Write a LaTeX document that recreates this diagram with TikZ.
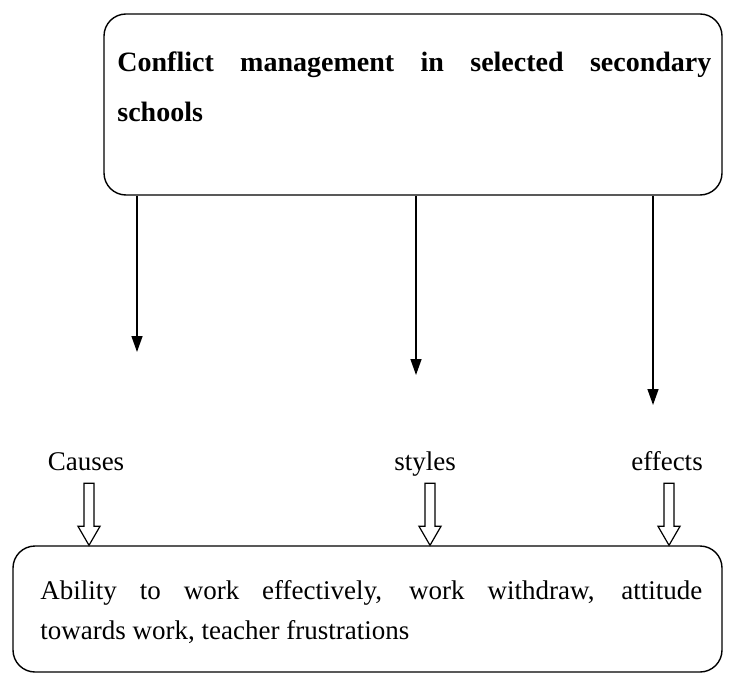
\documentclass[tikz,border=0pt]{standalone}
\usepackage{fontspec}
\setmainfont{Liberation Serif}
\usetikzlibrary{arrows.meta}

\tikzset{
  frame/.style={draw, rounded corners=11pt, line width=0.7pt, inner sep=0pt},
  arr/.style={line width=0.7pt, -{Triangle[length=8pt,width=5.5pt]}},
  hollow/.style={draw, line width=0.6pt, line join=miter},
  topic/.style={anchor=base, inner sep=0pt, font=\fontsize{13.5}{16}\selectfont},
  blurb/.style={anchor=north west, inner sep=0pt, align=justify},
}

\begin{document}
\begin{tikzpicture}[x=0.5pt, y=-0.5pt]
    \useasboundingbox (0, 0) rectangle (731, 673) ;
    % top box and its title
    \node[frame, minimum width=309pt, minimum height=90.5pt] (conflict) at (413, 104.5) {} ;
    \node[blurb, text width=297pt, font=\bfseries\fontsize{14}{25}\selectfont] (title) at (117, 51)
      {Conflict management in selected secondary\linebreak schools} ;
    % the three headings
    \node[topic] (causes) at (86, 470) {Causes} ;
    \node[topic] (styles) at (425, 470) {styles} ;
    \node[topic] (effects) at (667, 470) {effects} ;
    % arrow ends below the top box
    \coordinate (c1) at (137, 352) ;
    \coordinate (c2) at (416, 375) ;
    \coordinate (c3) at (653, 405) ;
    \draw[arr] (conflict.south -| c1) -- (c1) ;
    \draw[arr] (conflict.south -| c2) -- (c2) ;
    \draw[arr] (conflict.south -| c3) -- (c3) ;
    % bottom box
    \node[frame, minimum width=354.5pt, minimum height=63pt] (outcome) at (367.5, 609) {} ;
    \node[blurb, text width=331pt, font=\fontsize{13.5}{20}\selectfont] (list) at (40, 580)
      {Ability to work effectively, work withdraw, attitude\linebreak towards work, teacher frustrations} ;
    % hollow arrows down to the bottom box
    \coordinate (h1) at (outcome.north -| 89, 0) ;
    \coordinate (h2) at (outcome.north -| 430, 0) ;
    \coordinate (h3) at (outcome.north -| 669, 0) ;
    \foreach \h in {h1, h2, h3}
      \draw[hollow] (\h) -- ++(-11, -19) -- ++(6, 0) -- ++(0, -43) -- ++(10, 0)
        -- ++(0, 43) -- ++(6, 0) -- cycle ;
  \end{tikzpicture}
\end{document}
